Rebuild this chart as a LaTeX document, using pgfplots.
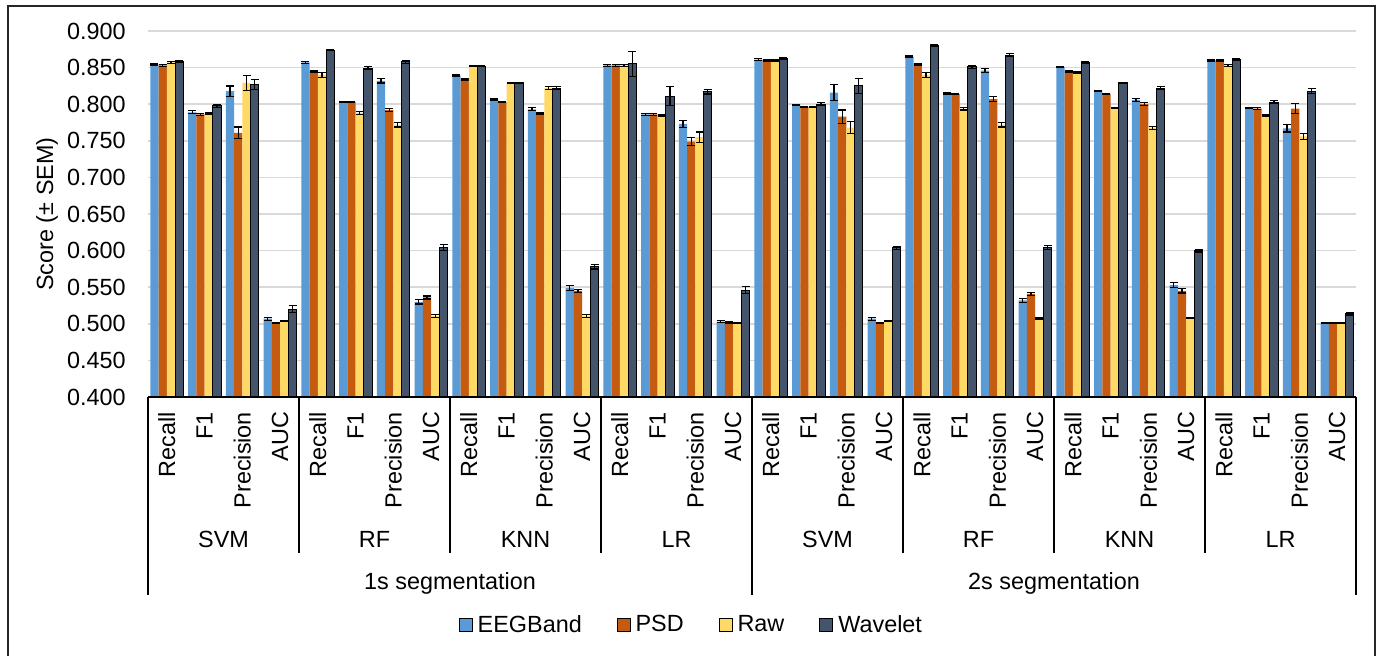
\documentclass[border=0pt]{standalone}
\usepackage{pgfplots}
\pgfplotsset{compat=1.18}
\usepackage{pgfplotstable}
\usepackage{fontspec}
\setmainfont{Liberation Sans}
\definecolor{cb}{HTML}{5B9BD5}
\definecolor{co}{HTML}{C55A11}
\definecolor{cy}{HTML}{FFD966}
\definecolor{cd}{HTML}{44546A}
\definecolor{gridc}{HTML}{D9D9D9}
\newcommand{\fs}{\fontsize{11.7pt}{14pt}\selectfont}

\pgfplotstableread{
x y e
0 0.854 0.001
1 0.789 0.002
2 0.818 0.007
3 0.507 0.002
4 0.857 0.001
5 0.803 0.001
6 0.832 0.003
7 0.530 0.003
8 0.839 0.001
9 0.806 0.001
10 0.793 0.002
11 0.549 0.003
12 0.853 0.001
13 0.786 0.001
14 0.773 0.005
15 0.503 0.001
16 0.861 0.001
17 0.799 0.001
18 0.816 0.011
19 0.507 0.002
20 0.865 0.001
21 0.815 0.001
22 0.846 0.003
23 0.532 0.003
24 0.851 0.001
25 0.818 0.001
26 0.806 0.002
27 0.553 0.003
28 0.860 0.001
29 0.795 0.001
30 0.767 0.005
31 0.501 0.001
}\eegband

\pgfplotstableread{
x y e
0 0.853 0.001
1 0.786 0.001
2 0.761 0.008
3 0.501 0.001
4 0.845 0.001
5 0.803 0.001
6 0.792 0.002
7 0.536 0.002
8 0.834 0.001
9 0.803 0.001
10 0.787 0.001
11 0.545 0.002
12 0.853 0.001
13 0.786 0.001
14 0.749 0.005
15 0.502 0.001
16 0.860 0.001
17 0.796 0.001
18 0.783 0.009
19 0.501 0.001
20 0.854 0.001
21 0.814 0.001
22 0.807 0.003
23 0.541 0.002
24 0.845 0.001
25 0.814 0.001
26 0.800 0.002
27 0.545 0.003
28 0.860 0.001
29 0.794 0.001
30 0.794 0.007
31 0.501 0.001
}\psd

\pgfplotstableread{
x y e
0 0.857 0.001
1 0.787 0.001
2 0.829 0.010
3 0.504 0.001
4 0.840 0.003
5 0.788 0.002
6 0.772 0.003
7 0.511 0.002
8 0.852 0.001
9 0.829 0.001
10 0.822 0.002
11 0.511 0.002
12 0.853 0.001
13 0.785 0.001
14 0.755 0.007
15 0.501 0.001
16 0.860 0.001
17 0.796 0.001
18 0.768 0.008
19 0.504 0.001
20 0.840 0.003
21 0.794 0.002
22 0.772 0.003
23 0.507 0.001
24 0.843 0.001
25 0.795 0.001
26 0.768 0.002
27 0.508 0.001
28 0.853 0.001
29 0.785 0.001
30 0.756 0.004
31 0.501 0.001
}\raw

\pgfplotstableread{
x y e
0 0.858 0.001
1 0.798 0.002
2 0.827 0.007
3 0.520 0.005
4 0.874 0.001
5 0.849 0.002
6 0.858 0.002
7 0.604 0.004
8 0.852 0.001
9 0.829 0.001
10 0.822 0.002
11 0.578 0.003
12 0.855 0.017
13 0.811 0.013
14 0.817 0.003
15 0.546 0.005
16 0.862 0.001
17 0.800 0.002
18 0.825 0.010
19 0.604 0.002
20 0.880 0.001
21 0.851 0.002
22 0.867 0.002
23 0.604 0.003
24 0.857 0.001
25 0.829 0.001
26 0.822 0.002
27 0.600 0.002
28 0.861 0.001
29 0.803 0.002
30 0.818 0.003
31 0.514 0.002
}\wavelet

\pgfplotsset{
  ebar/.style={error bars/.cd, y dir=both, y explicit,
    error bar style={line width=0.6pt, black},
    error mark options={rotate=90, mark size=2pt, line width=0.6pt, black}}
}

\begin{document}
\begin{tikzpicture}[font=\fs]
\useasboundingbox (0pt,0pt) rectangle (690pt,-327.5pt);
\begin{axis}[
  at={(74pt,-198.5pt)}, anchor=south west,
  scale only axis, width=604pt, height=183pt,
  ybar=0pt, bar width=4.15pt,
  xmin=-0.5, xmax=31.5, ymin=0.4, ymax=0.9,
  enlarge x limits=false,
  axis line style={draw=none},
  ytick={0.4,0.45,0.5,0.55,0.6,0.65,0.7,0.75,0.8,0.85,0.9},
  ymajorgrids, grid style={draw=gridc, line width=0.75pt},
  major tick length=0pt,
  yticklabel style={font=\fs, anchor=east, inner sep=0pt, xshift=-11pt, /pgf/number format/.cd, fixed, fixed zerofill, precision=3, assume math mode=true},
  xtick={0,...,31},
  xticklabels={Recall,F1,Precision,AUC,Recall,F1,Precision,AUC,Recall,F1,Precision,AUC,Recall,F1,Precision,AUC,Recall,F1,Precision,AUC,Recall,F1,Precision,AUC,Recall,F1,Precision,AUC,Recall,F1,Precision,AUC},
  xticklabel style={font=\fs, rotate=90, anchor=east, inner sep=0pt},
  xticklabel shift=7.3pt,
  ylabel={Score (± SEM)},
  ylabel style={font=\fs, at={(axis description cs:-0.0836,0.5)}, anchor=center},
  legend style={font=\fs, at={(axis description cs:0.4503,-0.623)}, anchor=center, draw=none, fill=none,
    legend columns=4,
    /tikz/every odd column/.append style={column sep=1pt},
    /tikz/every even column/.append style={column sep=16pt},
    nodes={inner sep=1.5pt}},
  legend image code/.code={\draw[#1] (0pt,-3.25pt) rectangle (6.5pt,3.25pt);},
]
\addplot[fill=cb, draw=none, ebar] table[x=x, y=y, y error=e]{\eegband};
\addplot[fill=co, draw=none, ebar] table[x=x, y=y, y error=e]{\psd};
\addplot[fill=cy, draw=none, ebar] table[x=x, y=y, y error=e]{\raw};
\addplot[fill=cd, draw=black, line width=0.5pt, ebar] table[x=x, y=y, y error=e]{\wavelet};
\legend{EEGBand,PSD,Raw,Wavelet}
\end{axis}
\begin{scope}[x=0.5pt, y=-0.5pt]
  \draw[black!85, line width=0.8pt] (8,670) -- (8,6) -- (1375,6) -- (1375,670);
  \draw[black, line width=0.6pt] (148,397) -- (1356,397);
  \foreach \k in {1,2,3,5,6,7} {
    \draw[black, line width=0.6pt] ({148+4*\k*37.75},397) -- ({148+4*\k*37.75},553);
  }
  \foreach \k in {0,4,8} {
    \draw[black, line width=0.6pt] ({148+4*\k*37.75},397) -- ({148+4*\k*37.75},595);
  }
  \foreach \k/\n in {0/SVM,1/RF,2/KNN,3/LR,4/SVM,5/RF,6/KNN,7/LR} {
    \node[anchor=base, inner sep=0pt] at ({148+(4*\k+2)*37.75},547) {\n};
  }
  \node[anchor=base, inner sep=0pt] at ({148+8*37.75},589) {1s segmentation};
  \node[anchor=base, inner sep=0pt] at ({148+24*37.75},589) {2s segmentation};
\end{scope}
\end{tikzpicture}
\end{document}
